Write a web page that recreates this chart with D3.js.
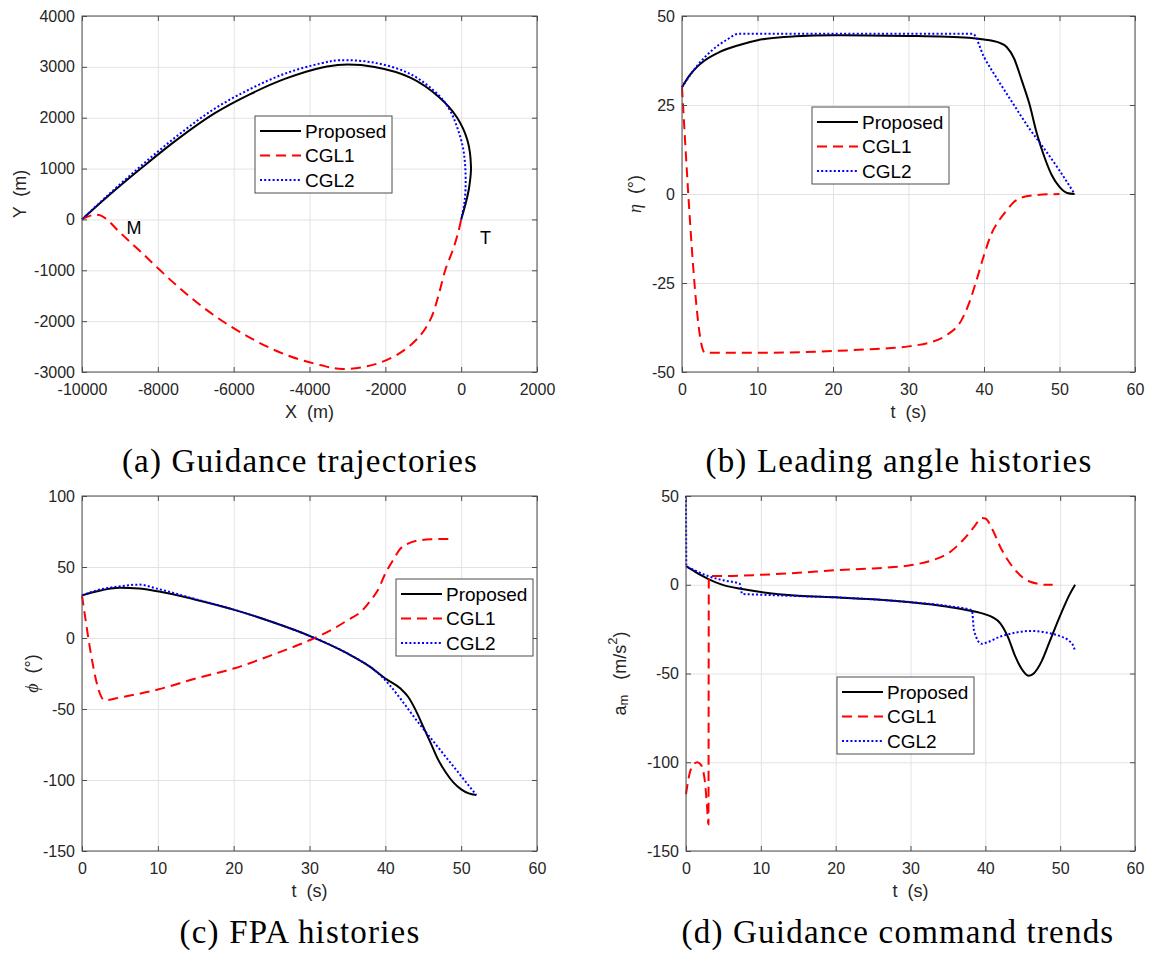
<!DOCTYPE html>
<html>
<head>
<meta charset="utf-8">
<script src="https://cdn.jsdelivr.net/npm/d3@7"></script>
<style>
  body { margin: 0; background: #fff; }
  text { white-space: pre; }
</style>
</head>
<body>
<script>
// ---- data ----
// (a) trajectories, [X m, Y m]
const trajProposed = [[-10000,0],[-9341,442],[-8400,1031],[-7459,1589],[-6518,2080],[-5576,2460],[-4635,2768],[-3694,2984],[-3129,3043],[-2282,2997],[-1341,2788],[-588,2408],[-118,2014],[165,1556],[259,1031],[212,638],[118,311],[0,0]];
const trajCGL1 = [[-10000,0],[-9700,90],[-9500,75],[-9300,-30],[-9059,-214],[-8400,-672],[-7459,-1328],[-6518,-1885],[-5576,-2324],[-4635,-2658],[-3694,-2868],[-3129,-2940],[-2282,-2850],[-1600,-2620],[-1100,-2300],[-800,-1950],[-600,-1500],[-421,-1000],[-200,-560],[-63,-210],[0,0]];
const trajCGL2 = [[-10000,0],[-9341,460],[-8400,1080],[-7459,1660],[-6518,2170],[-5576,2560],[-4635,2870],[-3694,3070],[-3200,3130],[-2282,3080],[-1341,2860],[-588,2440],[-300,2150],[-100,1800],[50,1400],[110,1000],[115,600],[80,300],[0,0]];

// (b) leading angle, [t s, eta deg]
const etaProposed = [[0,30],[1,33.3],[2,35.7],[3,37.5],[5,39.9],[7.5,41.8],[10,43.2],[15,44.3],[20,44.6],[30,44.4],[38,43.9],[40,43.4],[42,42.5],[43,41.3],[44,38],[45,31.9],[46,25.4],[47,17],[48,10.4],[49,5.2],[50,2],[51,0.3],[52,0]];
const etaCGL1 = [[0,30],[3,-44.5],[3.5,-44.6],[10,-44.6],[20,-44.1],[25,-43.6],[30,-42.8],[33,-41.6],[35,-39.7],[37,-35.5],[38,-30.8],[39,-24.3],[40,-17.2],[41,-11.1],[42,-7.4],[43,-4.6],[44,-2.2],[45,-1],[47,-0.3],[50,0]];
const etaCGL2 = [[0,30],[2,36],[4,40.4],[6,43.4],[7.5,45],[38.5,45],[40,38.5],[42,31.5],[44,24.9],[46,18.4],[47.5,14.1],[50,6.6],[52,0]];

// (c) flight path angle, [t s, phi deg]
const phiProposed = [[0,30],[2,32.9],[5,35.3],[7.5,34.8],[10,32.9],[15,27],[20,20],[25,11.4],[30,1.5],[35,-10.9],[38,-20.3],[40,-28.5],[42,-35.6],[43,-41.4],[44,-50.8],[45,-62.5],[46,-74.2],[47,-86],[48,-94.9],[49,-101.9],[50,-106.6],[51,-109.4],[52,-110.6]];
const phiCGL1 = [[0,30],[3,-43.8],[5,-41.9],[10,-36.3],[15,-28.5],[20,-21.5],[25,-12.1],[30,-1.6],[33,6],[35,12.5],[37,19.6],[38,26.1],[39,33.6],[40,45.4],[41,54.7],[42,63],[43,66.5],[44,68.3],[46,69.5],[49,69.8]];
const phiCGL2 = [[0,30],[2,33.6],[5,36.4],[7.5,37.6],[10,34.6],[15,27.3],[20,20],[25,11.4],[30,1.5],[35,-10.9],[39,-24.5],[45,-64],[52,-110.6]];

// (d) guidance command, [t s, a_m m/s^2]
const accProposed = [[0,10.5],[1,7.9],[2,5.4],[3,3.2],[5,-0.2],[7.5,-2.4],[10,-4.1],[15,-6.2],[20,-7.1],[25,-8.2],[30,-9.9],[35,-12.4],[38,-14.6],[40,-16.7],[41,-18.4],[42,-21.7],[43,-29.2],[44,-40.4],[45,-48.3],[45.8,-51.3],[46.5,-49.8],[47.5,-43.3],[48.5,-33],[49.5,-22.5],[50.5,-12.5],[51.2,-6],[52,0]];
const accCGL1 = [[0,-118],[0.5,-106],[1,-101.3],[1.5,-100],[2,-101.5],[2.5,-110],[2.8,-124],[3,-135],[3.05,5],[5,4.9],[10,5.6],[15,6.7],[20,8.2],[25,9.2],[30,11],[33,13.9],[35,17.6],[37,25.1],[38.5,32.6],[39.5,37.6],[40,37.3],[41,30.7],[42,21.3],[43,13.9],[44,8.2],[45,4.1],[46,1.7],[47,0.6],[48,0],[49,0]];
const accCGL2 = [[0,50],[0.05,10.5],[1,8.5],[3,4.8],[5,2.5],[7.2,0.5],[7.5,-5.2],[10,-5.6],[15,-6.4],[20,-7.1],[25,-8.2],[30,-9.8],[35,-12],[38.2,-14.4],[38.5,-26],[39.5,-33.3],[40,-32.8],[42,-29.2],[44,-27],[46,-26],[48,-26.8],[50,-29],[51,-31],[51.8,-34.8],[52,-37.6]];

// tick values
const xTicksTraj = [-10000,-8000,-6000,-4000,-2000,0,2000];
const yTicksTraj = [-3000,-2000,-1000,0,1000,2000,3000,4000];
const tTicks = [0,10,20,30,40,50,60];
const etaTicks = [-50,-25,0,25,50];
const phiTicks = [-150,-100,-50,0,50,100];
const accTicks = [-150,-100,-50,0,50];

const seriesNames = ["Proposed", "CGL1", "CGL2"];
const captions = ["(a) Guidance trajectories", "(b) Leading angle histories", "(c) FPA histories", "(d) Guidance command trends"];

// ---- drawing ----
const styles = [
  { color: "#000000", dash: null, width: 2 },
  { color: "#ff0000", dash: "10,6", width: 2 },
  { color: "#0000ff", dash: "2,2.2", width: 2 }
];
const sans = "'Liberation Sans', Arial, Helvetica, sans-serif";
const serif = "'Liberation Serif', 'Times New Roman', serif";

const svg = d3.select("body").append("svg")
  .attr("width", 1151).attr("height", 959)
  .style("font-family", sans);

function panel(cfg) {
  const x = d3.scaleLinear().domain(cfg.xDomain).range([cfg.left, cfg.right]);
  const y = d3.scaleLinear().domain(cfg.yDomain).range([cfg.bottom, cfg.top]);
  const g = svg.append("g");
  const h = cfg.bottom - cfg.top, w = cfg.right - cfg.left;

  // grid
  g.append("g").attr("transform", `translate(0,${cfg.bottom})`)
    .call(d3.axisBottom(x).tickValues(cfg.xTicks).tickSize(-h).tickFormat(""))
    .call(a => a.select(".domain").remove())
    .selectAll("line").attr("stroke", "#e3e3e3");
  g.append("g").attr("transform", `translate(${cfg.left},0)`)
    .call(d3.axisLeft(y).tickValues(cfg.yTicks).tickSize(-w).tickFormat(""))
    .call(a => a.select(".domain").remove())
    .selectAll("line").attr("stroke", "#e3e3e3");

  // series
  const line = d3.line().x(d => x(d[0])).y(d => y(d[1])).curve(cfg.curve);
  cfg.series.forEach((s, i) => {
    g.append("path").datum(s)
      .attr("d", line)
      .attr("fill", "none")
      .attr("stroke", styles[i].color)
      .attr("stroke-width", styles[i].width)
      .attr("stroke-dasharray", styles[i].dash)
      .attr("stroke-linejoin", "round");
  });

  // axes: labels on bottom/left, inward ticks on all four sides
  const fmt = d => String(d);
  const bottom = g.append("g").attr("transform", `translate(0,${cfg.bottom})`)
    .call(d3.axisBottom(x).tickValues(cfg.xTicks).tickSize(-5).tickPadding(12).tickFormat(fmt));
  const left = g.append("g").attr("transform", `translate(${cfg.left},0)`)
    .call(d3.axisLeft(y).tickValues(cfg.yTicks).tickSize(-5).tickPadding(7).tickFormat(fmt));
  const top = g.append("g").attr("transform", `translate(0,${cfg.top})`)
    .call(d3.axisTop(x).tickValues(cfg.xTicks).tickSize(-5).tickFormat(""));
  const right = g.append("g").attr("transform", `translate(${cfg.right},0)`)
    .call(d3.axisRight(y).tickValues(cfg.yTicks).tickSize(-5).tickFormat(""));
  [bottom, left, top, right].forEach(a => {
    a.select(".domain").remove();
    a.selectAll("line").attr("stroke", "#4d4d4d");
    a.selectAll("text").attr("fill", "#262626").style("font-size", "16px").style("font-family", sans);
  });
  g.append("rect")
    .attr("x", cfg.left).attr("y", cfg.top).attr("width", w).attr("height", h)
    .attr("fill", "none").attr("stroke", "#4d4d4d").attr("stroke-width", 1);

  // x label
  g.append("text")
    .attr("x", (cfg.left + cfg.right) / 2).attr("y", cfg.bottom + 46)
    .attr("text-anchor", "middle").attr("fill", "#262626")
    .style("font-size", "18px").text(cfg.xLabel);

  // y label
  const yl = g.append("text")
    .attr("transform", `translate(${cfg.yLabelX},${(cfg.top + cfg.bottom) / 2}) rotate(-90)`)
    .attr("text-anchor", "middle").attr("dominant-baseline", "central")
    .attr("fill", "#262626").style("font-size", "18px");
  cfg.yLabel(yl);

  // legend
  const lg = g.append("g").attr("transform", `translate(${cfg.legend[0]},${cfg.legend[1]})`);
  lg.append("rect").attr("width", 137).attr("height", 77)
    .attr("fill", "#fff").attr("stroke", "#4d4d4d").attr("stroke-width", 1);
  seriesNames.forEach((name, i) => {
    const ry = 15 + i * 24.5;
    lg.append("line").attr("x1", 5).attr("x2", 46).attr("y1", ry).attr("y2", ry)
      .attr("stroke", styles[i].color).attr("stroke-width", styles[i].width)
      .attr("stroke-dasharray", styles[i].dash);
    lg.append("text").attr("x", 50).attr("y", ry).attr("dominant-baseline", "central")
      .attr("fill", "#000").style("font-size", "19px").text(name);
  });

  if (cfg.extra) cfg.extra(g, x, y);

  // caption
  svg.append("text")
    .attr("x", cfg.captionX).attr("y", cfg.captionY)
    .attr("text-anchor", "middle").attr("fill", "#000")
    .style("font-family", serif).style("font-size", "33px").style("letter-spacing", "1.2px")
    .text(cfg.caption);
}

const monotone = d3.curveMonotoneX;

panel({
  left: 82, right: 537, top: 16, bottom: 372,
  xDomain: [-10000, 2000], yDomain: [-3000, 4000],
  xTicks: xTicksTraj, yTicks: yTicksTraj,
  series: [trajProposed, trajCGL1, trajCGL2],
  curve: d3.curveCatmullRom.alpha(0.5),
  xLabel: "X  (m)", yLabelX: 20,
  yLabel: t => t.text("Y  (m)"),
  legend: [255, 116],
  caption: captions[0], captionX: 300, captionY: 472,
  extra: (g, x, y) => {
    g.append("text").attr("x", x(-8630)).attr("y", y(-168))
      .attr("text-anchor", "middle").attr("dominant-baseline", "central")
      .style("font-size", "18px").text("M");
    g.append("text").attr("x", x(643)).attr("y", y(-365))
      .attr("text-anchor", "middle").attr("dominant-baseline", "central")
      .style("font-size", "18px").text("T");
  }
});

panel({
  left: 682, right: 1135, top: 16, bottom: 372,
  xDomain: [0, 60], yDomain: [-50, 50],
  xTicks: tTicks, yTicks: etaTicks,
  series: [etaProposed, etaCGL1, etaCGL2],
  curve: monotone,
  xLabel: "t  (s)", yLabelX: 635,
  yLabel: t => {
    t.append("tspan").style("font-family", serif).style("font-style", "italic").text("η");
    t.append("tspan").text("  (°)");
  },
  legend: [812, 107],
  caption: captions[1], captionX: 899, captionY: 472
});

panel({
  left: 82, right: 537, top: 496, bottom: 851,
  xDomain: [0, 60], yDomain: [-150, 100],
  xTicks: tTicks, yTicks: phiTicks,
  series: [phiProposed, phiCGL1, phiCGL2],
  curve: monotone,
  xLabel: "t  (s)", yLabelX: 32,
  yLabel: t => {
    t.append("tspan").style("font-family", serif).style("font-style", "italic").text("ϕ");
    t.append("tspan").text("  (°)");
  },
  legend: [396, 579],
  caption: captions[2], captionX: 300, captionY: 943
});

panel({
  left: 686, right: 1135, top: 496, bottom: 851,
  xDomain: [0, 60], yDomain: [-150, 50],
  xTicks: tTicks, yTicks: accTicks,
  series: [accProposed, accCGL1, accCGL2],
  curve: monotone,
  xLabel: "t  (s)", yLabelX: 620,
  yLabel: t => {
    t.append("tspan").text("a");
    t.append("tspan").attr("baseline-shift", "-25%").style("font-size", "13px").text("m");
    t.append("tspan").text("   (m/s");
    t.append("tspan").attr("baseline-shift", "super").style("font-size", "13px").text("2");
    t.append("tspan").text(")");
  },
  legend: [837, 677],
  caption: captions[3], captionX: 898, captionY: 943
});
</script>
</body>
</html>
